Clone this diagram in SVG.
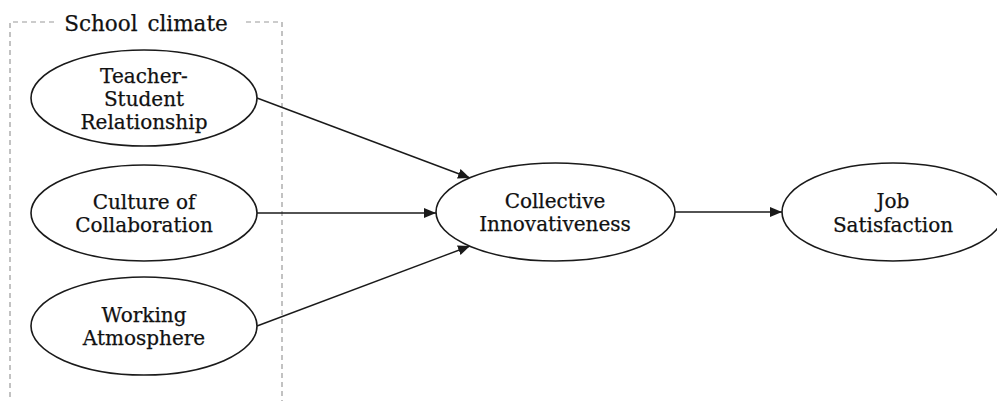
<svg xmlns="http://www.w3.org/2000/svg" width="997" height="401" viewBox="0 0 997 401">
<style>
  .node ellipse { fill: #ffffff; stroke: #1a1a1a; stroke-width: 1.6; }
  .node text, .title { font-family: "DejaVu Serif", "Liberation Serif", serif; font-size: 20px; fill: #111111; stroke: #111111; stroke-width: 0.25; text-anchor: middle; }
  .title { font-size: 21.5px; word-spacing: 3px; }
  .edge { stroke: #1a1a1a; stroke-width: 1.4; fill: none; marker-end: url(#arrow); }
  .frame { stroke: #9a9a9a; stroke-width: 1.2; fill: none; stroke-dasharray: 5 4; }
</style>
<defs>
  <marker id="arrow" viewBox="0 0 12 10" refX="12" refY="5" markerWidth="12" markerHeight="10" markerUnits="userSpaceOnUse" orient="auto">
    <path d="M0,0 L12,5 L0,10 Z" fill="#1a1a1a"/>
  </marker>
</defs>
<rect width="997" height="401" fill="#ffffff"/>
<g id="school-climate">
  <path class="frame" d="M54,22 H10 V405"/>
  <path class="frame" d="M246,22 H282 V405"/>
  <text class="title" x="146" y="31">School climate</text>
</g>
<g id="connectors">
  <line class="edge" x1="257" y1="98" x2="470" y2="178"/>
  <line class="edge" x1="257" y1="213" x2="436" y2="213"/>
  <line class="edge" x1="257" y1="326" x2="470" y2="246"/>
  <line class="edge" x1="675" y1="212" x2="782" y2="212"/>
</g>
<g id="teacher-student" class="node">
  <ellipse cx="144" cy="98" rx="113" ry="48"/>
  <text x="144" y="83">Teacher-</text>
  <text x="144" y="106">Student</text>
  <text x="144" y="129">Relationship</text>
</g>
<g id="culture-collaboration" class="node">
  <ellipse cx="144" cy="213" rx="113" ry="48"/>
  <text x="144" y="209">Culture of</text>
  <text x="144" y="232">Collaboration</text>
</g>
<g id="working-atmosphere" class="node">
  <ellipse cx="144" cy="326" rx="113" ry="49"/>
  <text x="144" y="322">Working</text>
  <text x="144" y="345">Atmosphere</text>
</g>
<g id="collective-innovativeness" class="node">
  <ellipse cx="555.5" cy="212" rx="119.5" ry="49"/>
  <text x="555" y="208">Collective</text>
  <text x="555" y="231">Innovativeness</text>
</g>
<g id="job-satisfaction" class="node">
  <ellipse cx="893" cy="212" rx="111" ry="49"/>
  <text x="893" y="208">Job</text>
  <text x="893" y="232">Satisfaction</text>
</g>
</svg>
